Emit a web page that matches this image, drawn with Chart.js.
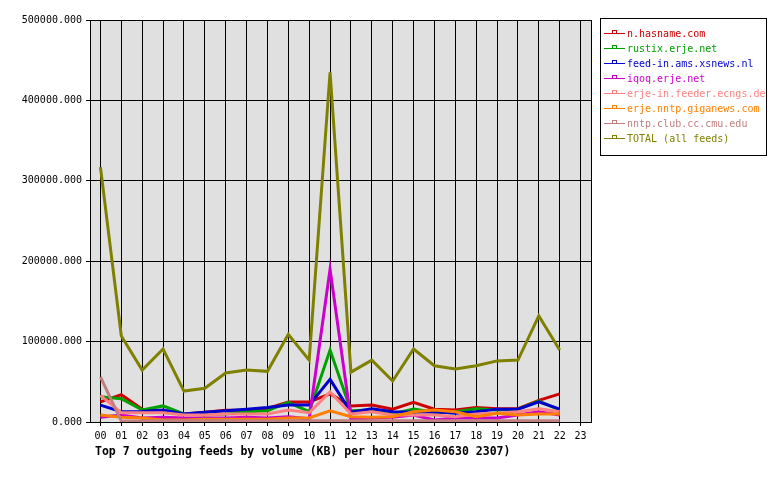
<!DOCTYPE html>
<html>
<head>
<meta charset="utf-8">
<script src="https://cdn.jsdelivr.net/npm/chart.js@4/dist/chart.umd.min.js"></script>
<style>
  html, body { margin: 0; padding: 0; background: #ffffff; }
  #wrap { width: 780px; height: 480px; }
</style>
</head>
<body>
<div id="wrap"><canvas id="chart" width="780" height="480"></canvas></div>
<script>
// horas do dia
const hours = ['00','01','02','03','04','05','06','07','08','09','10','11',
               '12','13','14','15','16','17','18','19','20','21','22','23'];

// nomes e cores dos feeds
const feedNames = ['n.hasname.com', 'rustix.erje.net', 'feed-in.ams.xsnews.nl', 'iqoq.erje.net',
                   'erje-in.feeder.ecngs.de', 'erje.nntp.giganews.com', 'nntp.club.cc.cmu.edu', 'TOTAL (all feeds)'];
const feedColors = ['#cc0000', '#00a000', '#0000cc', '#cc00cc', '#ff8080', '#ff8000', '#c08080', '#808000'];

// volume (KB) por hora
const hasname  = [25000, 34000, 16000, 14000, 10000, 12000, 14500, 14500, 17000, 25000, 25000, 35000, 20000, 21000, 16000, 24500, 16000, 15000, 18000, 16500, 16500, 27000, 35000, null];
const rustix   = [31500, 29000, 15000, 20000, 10000, 8700, 10000, 12800, 14000, 24500, 12800, 89500, 14000, 15000, 10000, 16000, 12000, 12800, 16500, 15000, 16000, 26000, 15000, null];
const xsnews   = [21000, 12800, 13000, 15000, 10000, 12000, 14000, 16000, 18000, 21000, 21000, 53000, 12000, 16500, 12800, 12000, 12800, 11000, 12800, 16000, 16000, 25000, 16000, null];
const iqoq     = [6000, 8700, 5000, 6000, 5000, 5000, 5000, 6000, 5000, 6600, 4000, 190000, 3000, 5000, 6000, 8700, 2500, 5000, 5000, 5000, 8700, 12800, 8700, null];
const ecngs    = [33000, 11500, 11500, 11500, 8700, 8700, 10000, 10000, 10000, 15000, 11500, 37500, 10000, 12800, 8700, 8700, 8700, 6600, 10000, 11000, 12800, 16500, 12800, null];
const giganews = [8700, 6000, 5000, 2500, 2500, 3500, 3500, 3500, 3500, 5000, 5000, 14000, 6600, 6000, 6600, 12800, 15000, 12800, 6600, 11000, 8700, 10000, 10000, null];
const cmu      = [56000, 1200, 1200, 1500, 1500, 1500, 1500, 1500, 1500, 1500, 1500, 1500, 1500, 1500, 1500, 1500, 1500, 1500, 1500, 1500, 1500, 1500, 1500, null];
const total    = [317000, 107000, 64600, 90800, 38500, 42000, 61000, 64600, 63000, 109000, 77000, 435000, 62000, 77000, 51000, 90800, 70000, 66000, 70000, 76000, 77000, 132000, 89500, null];

const seriesData = [hasname, rustix, xsnews, iqoq, ecngs, giganews, cmu, total];

const yTicks = [0, 100000, 200000, 300000, 400000, 500000];

const titleText = 'Top 7 outgoing feeds by volume (KB) per hour (20260630 2307)';
const monoFont = '"DejaVu Sans Mono", "Liberation Mono", monospace';

// fundo cinza + borda da área do gráfico
const plotBackground = {
    id: 'plotBackground',
    beforeDraw(chart) {
        const { ctx, chartArea: a } = chart;
        ctx.save();
        ctx.fillStyle = '#e0e0e0';
        ctx.fillRect(a.left, a.top, a.right - a.left, a.bottom - a.top);
        ctx.restore();
    },
    afterDraw(chart) {
        const { ctx, chartArea: a } = chart;
        ctx.save();
        ctx.strokeStyle = '#000000';
        ctx.lineWidth = 1;
        ctx.strokeRect(Math.round(a.left) + 0.5, Math.round(a.top) + 0.5,
                       Math.round(a.right - a.left), Math.round(a.bottom - a.top));

        // título embaixo
        ctx.fillStyle = '#000000';
        ctx.font = 'bold 11.5px ' + monoFont;
        ctx.textBaseline = 'middle';
        ctx.textAlign = 'left';
        ctx.fillText(titleText, 95, 452);
        ctx.restore();
    }
};

// legenda em caixa à direita
const boxLegend = {
    id: 'boxLegend',
    afterDraw(chart) {
        const ctx = chart.ctx;
        const x0 = 600, y0 = 18, w = 166, h = 137;
        ctx.save();
        ctx.fillStyle = '#ffffff';
        ctx.fillRect(x0, y0, w, h);
        ctx.strokeStyle = '#000000';
        ctx.lineWidth = 1;
        ctx.strokeRect(x0 + 0.5, y0 + 0.5, w, h);
        ctx.font = '10px ' + monoFont;
        ctx.textBaseline = 'middle';
        chart.data.datasets.forEach((ds, i) => {
            const y = 33 + i * 15;
            ctx.strokeStyle = ds.borderColor;
            ctx.beginPath();
            ctx.moveTo(604, y + 0.5);
            ctx.lineTo(625, y + 0.5);
            ctx.stroke();
            ctx.strokeRect(612.5, y - 2.5, 4, 3);
            ctx.fillStyle = ds.borderColor;
            ctx.fillText(ds.label, 627, y + 1);
        });
        ctx.restore();
    }
};

const datasets = feedNames.map((name, i) => ({
    label: name,
    data: seriesData[i],
    borderColor: feedColors[i],
    backgroundColor: feedColors[i],
    borderWidth: 3,
    pointRadius: 0,
    tension: 0,
    fill: false,
    spanGaps: false,
    order: feedNames.length - i
}));

new Chart(document.getElementById('chart'), {
    type: 'line',
    data: { labels: hours, datasets: datasets },
    plugins: [plotBackground, boxLegend],
    options: {
        responsive: false,
        animation: false,
        layout: { padding: { left: 0, right: 189, top: 20, bottom: 0 } },
        plugins: {
            legend: { display: false },
            title: { display: false },
            tooltip: { enabled: false }
        },
        scales: {
            x: {
                offset: true,
                grid: { color: '#000000', lineWidth: 1, offset: false, tickLength: 4 },
                border: { color: '#000000' },
                ticks: {
                    color: '#000000',
                    font: { family: monoFont, size: 10 },
                    maxRotation: 0,
                    autoSkip: false,
                    padding: 4
                },
                afterFit(scale) { scale.height = 58; }
            },
            y: {
                min: 0,
                max: 500000,
                afterBuildTicks(scale) { scale.ticks = yTicks.map(v => ({ value: v })); },
                grid: { color: '#000000', lineWidth: 1, tickLength: 4 },
                border: { color: '#000000' },
                ticks: {
                    color: '#000000',
                    font: { family: monoFont, size: 10 },
                    padding: 4,
                    callback: v => Number(v).toFixed(3)
                },
                afterFit(scale) { scale.width = 90; }
            }
        }
    }
});
</script>
</body>
</html>
